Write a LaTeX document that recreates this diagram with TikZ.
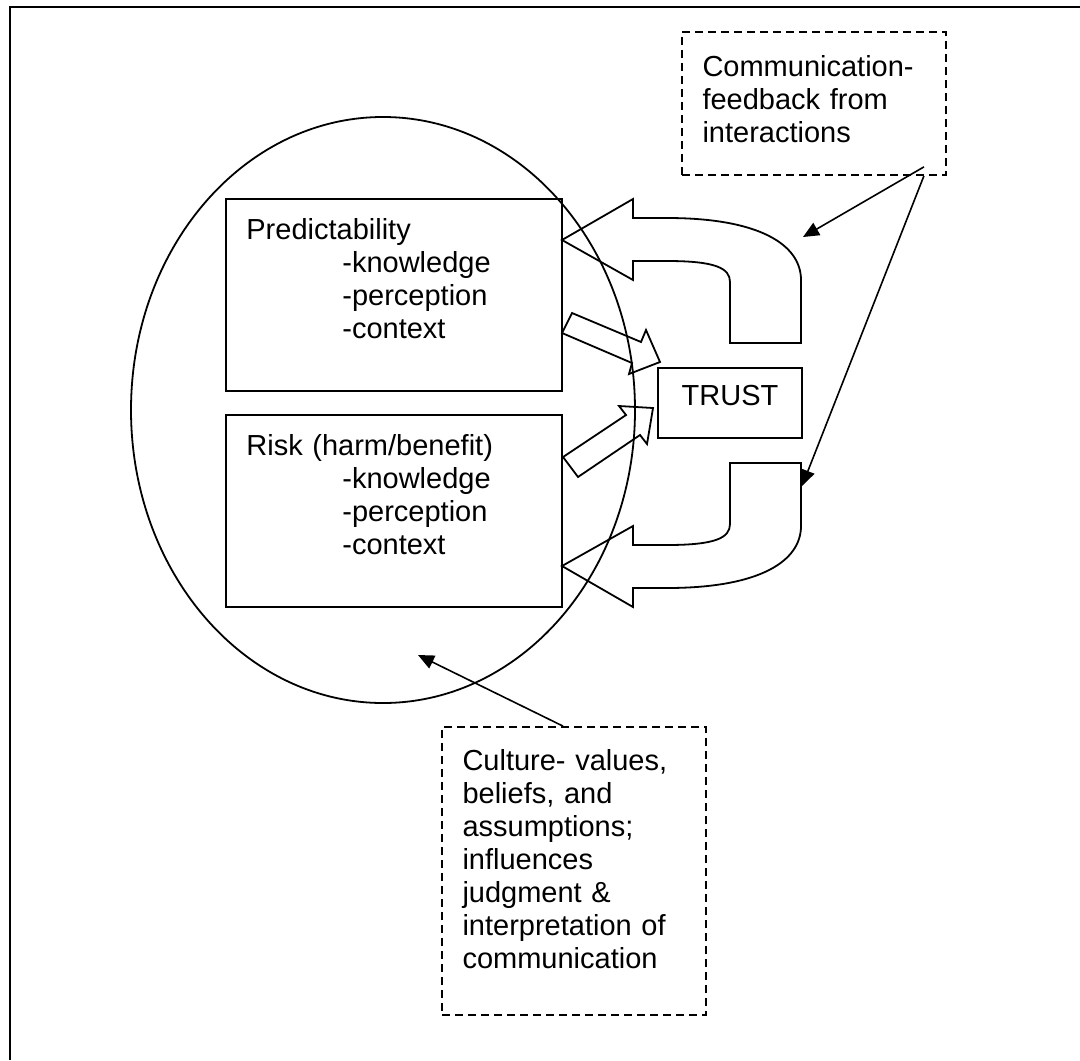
\documentclass[tikz,border=0pt]{standalone}
\usepackage{fontspec}
\setmainfont{Liberation Sans}
\usetikzlibrary{arrows.meta,calc,shapes.geometric}

\tikzset{
  box/.style={draw, line width=1pt, inner sep=0pt},
  dashbox/.style={draw, line width=0.9pt, dash pattern=on 4pt off 2.5pt, inner sep=0pt},
  txt/.style={anchor=base west, inner sep=0pt, align=left, text width=125pt},
  blockarrow/.style={draw, line width=0.9pt, line join=miter},
  pointer/.style={-{Triangle[length=8pt,width=7pt]}, line width=0.8pt},
}

\begin{document}
\begin{tikzpicture}[x=0.5pt, y=-0.5pt, font=\fontsize{14.5}{16.5}\selectfont]
			\useasboundingbox (0,0) rectangle (1080,1060);
			% frame
			\draw[line width=1.4pt] (10,1060) -- (10,7) -- (1080,7);
			
			% culture ellipse
			\node[draw, ellipse, line width=0.9pt, minimum width=252pt, minimum height=293pt, inner sep=0pt] (circ) at (383,410) {};
			
			% boxes
			\node[box, minimum width=168pt, minimum height=96pt] (pred) at (394,295) {};
			\node[box, minimum width=168pt, minimum height=96pt] (risk) at (394,511) {};
			\node[box, minimum width=72pt, minimum height=35pt, text height=11pt, text depth=9pt] (trust) at (730,403) {TRUST};
			\node[dashbox, minimum width=132pt, minimum height=71.5pt] (comm) at (814,103.5) {};
			\node[dashbox, minimum width=132pt, minimum height=144pt] (cult) at (574,871) {};
			
			% texts
			\node[txt] (predtxt) at ([shift={(21,41)}]pred.north west) {Predictability\\
				\hspace*{48pt}-knowledge\\ \hspace*{48pt}-perception\\ \hspace*{48pt}-context};
			\node[txt] (risktxt) at ([shift={(21,41)}]risk.north west) {Risk (harm/benefit)\\
				\hspace*{48pt}-knowledge\\ \hspace*{48pt}-perception\\ \hspace*{48pt}-context};
			\node[txt] (commtxt) at ([shift={(21,45)}]comm.north west) {Communication-\\ feedback from\\ interactions};
			\node[txt] (culttxt) at ([shift={(21,44)}]cult.north west) {Culture- values,\\ beliefs, and\\ assumptions;\\
				influences\\ judgment \&\\ interpretation of\\ communication};
			
			% feedback arrows (U-turn)
			\draw[blockarrow] (562,240) -- (633,199) -- (633,218) -- (667,218)
				.. controls (760,218) and (801,245) .. (801,280) -- (801,343) -- (730,343) -- (730,282)
				.. controls (730,268) and (715,261) .. (667,261) -- (633,261) -- (633,280) -- cycle;
			\draw[blockarrow] (562,566) -- (633,607) -- (633,588) -- (667,588)
				.. controls (760,588) and (801,561) .. (801,526) -- (801,463) -- (730,463) -- (730,524)
				.. controls (730,538) and (715,545) .. (667,545) -- (633,545) -- (633,526) -- cycle;
			
			% small arrows into TRUST
			\draw[blockarrow] (572,313) -- (641,342) -- (646,330) -- (660,362) -- (629,374) -- (632,363) -- (562,333) -- cycle;
			\draw[blockarrow] (563,457) -- (626,415) -- (619,406) -- (653,408) -- (647,444) -- (640,435) -- (578,477) -- cycle;
			
			% pointers
			\coordinate (ctop) at (803,237);
			\coordinate (cbot) at (802,486);
			\coordinate (cin) at (418,655);
			\draw[pointer] ([shift={(-23,-9)}]comm.south east) -- (ctop);
			\draw[pointer] ([shift={(-23,0)}]comm.south east) -- (cbot);
			\draw[pointer] ([shift={(-11,0)}]cult.north) -- (cin);
		\end{tikzpicture}
\end{document}
